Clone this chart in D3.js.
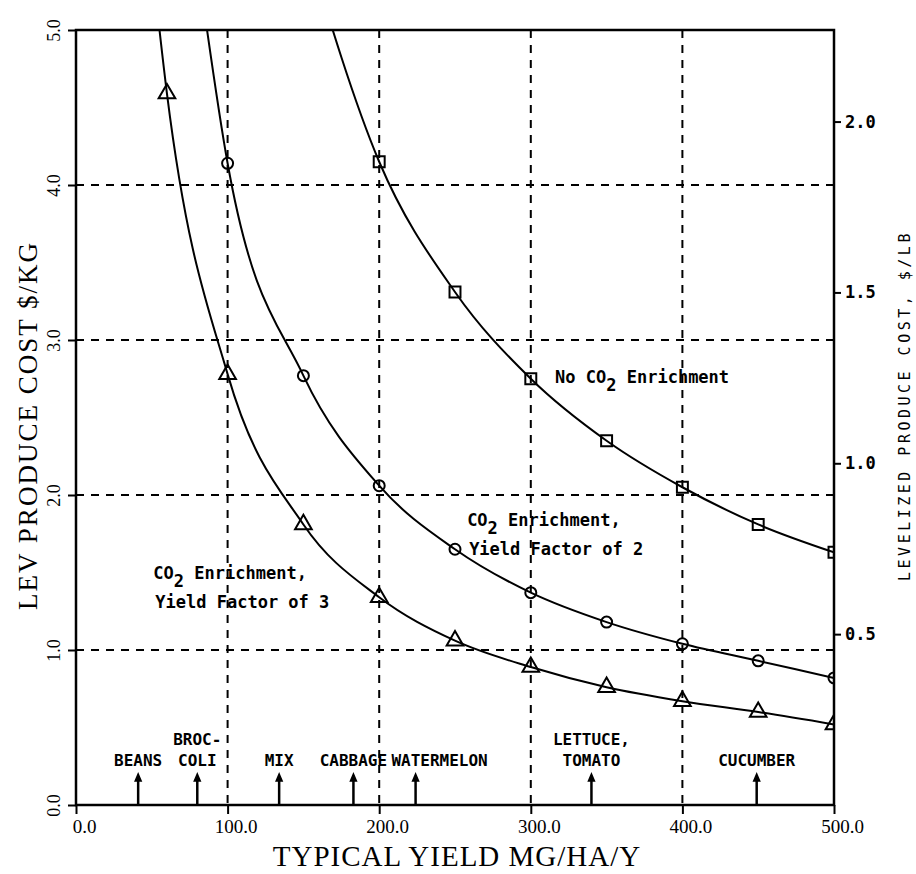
<!DOCTYPE html>
<html>
<head>
<meta charset="utf-8">
<script src="https://cdn.jsdelivr.net/npm/d3@7"></script>
<style>
  body { margin: 0; background: #fff; }
  #chart { width: 916px; height: 874px; }
  .lab { font-family: "DejaVu Sans Mono", monospace; font-weight: bold; font-size: 17px; fill: #000; }
  .serif { font-family: "Liberation Serif", "Times New Roman", serif; fill: #000; }
</style>
</head>
<body>
<div id="chart"></div>
<script>
// yield (Mg/ha/y) and levelized cost ($/kg); first point of each series lies above the frame
const noCo2Yield = [150, 200, 250, 300, 350, 400, 450, 500];
const noCo2Cost  = [5.62, 4.15, 3.31, 2.75, 2.35, 2.05, 1.81, 1.63];

const factor2Yield = [80, 100, 150, 200, 250, 300, 350, 400, 450, 500];
const factor2Cost  = [5.45, 4.14, 2.77, 2.06, 1.65, 1.37, 1.18, 1.04, 0.93, 0.82];

const factor3Yield = [50, 60, 100, 150, 200, 250, 300, 350, 400, 450, 500];
const factor3Cost  = [5.45, 4.59, 2.78, 1.81, 1.34, 1.06, 0.89, 0.76, 0.67, 0.60, 0.52];

const crops      = [["BEANS"], ["BROC-", "COLI"], ["MIX"], ["CABBAGE"], ["WATERMELON"], ["LETTUCE,", "TOMATO"], ["CUCUMBER"]];
const cropYields = [41, 80, 134, 183, 224, 340, 449];

const xTicks  = [0, 100, 200, 300, 400, 500];
const yTicks  = [0, 1, 2, 3, 4, 5];
const lbTicks = [0.5, 1.0, 1.5, 2.0];
const KG_PER_LB = 2.20462;

function render(selector) {
    d3.select(selector).html("");

    const margin = {top: 30, right: 82, bottom: 69, left: 76};
    const W = 916, H = 874;
    const width = W - margin.left - margin.right;
    const height = H - margin.top - margin.bottom;

    const svg = d3.select(selector).append("svg")
        .attr("width", W)
        .attr("height", H)
        .append("g")
        .attr("transform", `translate(${margin.left}, ${margin.top})`);

    const x = d3.scaleLinear().domain([0, 500]).range([0, width]);
    const y = d3.scaleLinear().domain([0, 5]).range([height, 0]);
    const yLb = d3.scaleLinear().domain([0, 5 / KG_PER_LB]).range([height, 0]);

    svg.append("clipPath").attr("id", "plot-clip")
        .append("rect").attr("width", width).attr("height", height);

    // dashed grid
    svg.selectAll(".vgrid")
        .data(xTicks.slice(1, -1))
        .enter().append("line")
        .attr("x1", d => x(d)).attr("x2", d => x(d))
        .attr("y1", 0).attr("y2", height)
        .attr("stroke", "#000").attr("stroke-width", 2)
        .attr("stroke-dasharray", "8,7");

    svg.selectAll(".hgrid")
        .data(yTicks.slice(1, -1))
        .enter().append("line")
        .attr("x1", 0).attr("x2", width)
        .attr("y1", d => y(d)).attr("y2", d => y(d))
        .attr("stroke", "#000").attr("stroke-width", 2)
        .attr("stroke-dasharray", "8,7");

    // axes
    const xAxis = svg.append("g")
        .attr("transform", `translate(0, ${height})`)
        .call(d3.axisBottom(x).tickValues(xTicks).tickSize(9).tickSizeOuter(0).tickFormat(d3.format(".1f")));
    xAxis.select(".domain").remove();
    xAxis.selectAll("line").attr("stroke-width", 2);
    xAxis.selectAll("text")
        .attr("class", "serif")
        .attr("y", 28).attr("dy", 0).attr("dx", 8)
        .style("font-size", "19px");

    const yAxis = svg.append("g")
        .call(d3.axisLeft(y).tickValues(yTicks).tickSize(8).tickSizeOuter(0).tickFormat(d3.format(".1f")));
    yAxis.select(".domain").remove();
    yAxis.selectAll("line").attr("stroke-width", 2);
    yAxis.selectAll("text")
        .attr("class", "serif")
        .attr("transform", "rotate(-90)")
        .attr("x", 0).attr("y", -16).attr("dy", 0)
        .attr("text-anchor", "middle")
        .style("font-size", "18px");

    const rAxis = svg.append("g")
        .attr("transform", `translate(${width}, 0)`)
        .call(d3.axisRight(yLb).tickValues(lbTicks).tickSize(7).tickSizeOuter(0).tickFormat(d3.format(".1f")));
    rAxis.select(".domain").remove();
    rAxis.selectAll("line").attr("stroke-width", 2);
    rAxis.selectAll("text")
        .attr("class", "lab")
        .attr("x", 11)
        .style("font-size", "17px");

    // frame
    svg.append("rect")
        .attr("width", width).attr("height", height)
        .attr("fill", "none").attr("stroke", "#000").attr("stroke-width", 2.5);

    // curves
    const line = d3.line()
        .x(d => x(d[0]))
        .y(d => y(d[1]))
        .curve(d3.curveMonotoneX);

    const series = [
        {name: "square",   pts: d3.zip(noCo2Yield, noCo2Cost)},
        {name: "circle",   pts: d3.zip(factor2Yield, factor2Cost)},
        {name: "triangle", pts: d3.zip(factor3Yield, factor3Cost)}
    ];

    const plot = svg.append("g").attr("clip-path", "url(#plot-clip)");

    series.forEach(s => {
        plot.append("path")
            .datum(s.pts)
            .attr("d", line)
            .attr("fill", "none")
            .attr("stroke", "#000")
            .attr("stroke-width", 2);

        const sym = s.name === "square" ? d3.symbolSquare
                  : s.name === "circle" ? d3.symbolCircle : d3.symbolTriangle;
        plot.selectAll(".m-" + s.name)
            .data(s.pts.filter(d => d[1] <= 5))
            .enter().append("path")
            .attr("transform", d => `translate(${x(d[0])}, ${y(d[1])})`)
            .attr("d", d3.symbol().type(sym).size(s.name === "circle" ? 95 : 120))
            .attr("fill", "none")
            .attr("stroke", "#000")
            .attr("stroke-width", 2);
    });

    // curve labels
    function co2Label(px, py, rest, second) {
        const t = svg.append("text").attr("class", "lab").attr("x", px).attr("y", py);
        t.append("tspan").text(rest[0]);
        t.append("tspan").attr("dy", 8).text("2");
        t.append("tspan").attr("dy", -8).text(rest[1]);
        if (second) {
            svg.append("text").attr("class", "lab")
                .attr("x", px + 2).attr("y", py + 29).text(second);
        }
    }
    co2Label(x(316), y(2.72), ["No CO", " Enrichment"]);
    co2Label(x(258), y(1.8), ["CO", " Enrichment,"], "Yield Factor of 2");
    co2Label(x(51), y(1.46), ["CO", " Enrichment,"], "Yield Factor of 3");

    // crop markers
    const cropG = svg.selectAll(".crop")
        .data(d3.zip(crops, cropYields))
        .enter().append("g")
        .attr("transform", d => `translate(${x(d[1])}, ${height})`);

    cropG.append("line")
        .attr("y1", 0).attr("y2", -26)
        .attr("stroke", "#000").attr("stroke-width", 2.5);
    cropG.append("path")
        .attr("d", "M-3,-24 L0,-31 L3,-24 Z")
        .attr("fill", "#000").attr("stroke", "#000").attr("stroke-width", 1.5);

    cropG.each(function(d) {
        const lines = d[0];
        const g = d3.select(this);
        lines.forEach((txt, i) => {
            g.append("text")
                .attr("class", "lab")
                .attr("text-anchor", "middle")
                .attr("x", txt === "WATERMELON" ? 24 : 0)
                .attr("y", -39 - (lines.length - 1 - i) * 21)
                .style("font-size", "16px")
                .text(txt);
        });
    });

    // axis titles
    svg.append("text")
        .attr("class", "serif")
        .attr("x", width / 2 + 2)
        .attr("y", height + 61)
        .attr("text-anchor", "middle")
        .style("font-size", "29px")
        .style("letter-spacing", "1px")
        .text("TYPICAL YIELD MG/HA/Y");

    svg.append("text")
        .attr("class", "serif")
        .attr("transform", "rotate(-90)")
        .attr("x", -(height / 2) - 8)
        .attr("y", -margin.left + 37)
        .attr("text-anchor", "middle")
        .style("font-size", "27px")
        .style("letter-spacing", "2px")
        .text("LEV PRODUCE COST $/KG");

    svg.append("text")
        .attr("transform", "rotate(-90)")
        .attr("x", -(height / 2) + 12)
        .attr("y", width + 76)
        .attr("text-anchor", "middle")
        .style("font-family", "DejaVu Sans Mono, monospace")
        .style("font-size", "15px")
        .style("letter-spacing", "3.5px")
        .text("LEVELIZED PRODUCE COST, $/LB");
}

render("#chart");
</script>
</body>
</html>
